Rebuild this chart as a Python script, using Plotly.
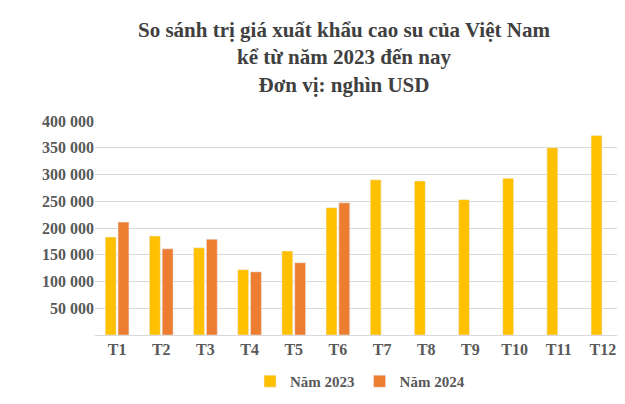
import plotly.graph_objects as go

months = ["T1", "T2", "T3", "T4", "T5", "T6", "T7", "T8", "T9", "T10", "T11", "T12"]
val_2023 = [183000, 185000, 163000, 122000, 157000, 238000, 290000, 288000, 253000, 293000, 350000, 373000]
val_2024 = [211000, 161000, 179000, 118000, 135000, 247000, None, None, None, None, None, None]
tick_vals = [0, 50000, 100000, 150000, 200000, 250000, 300000, 350000, 400000]
tick_text = ["", "50 000", "100 000", "150 000", "200 000", "250 000", "300 000", "350 000", "400 000"]

fig = go.Figure()
fig.add_trace(go.Bar(x=months, y=val_2023, name="Năm 2023", marker_color="#FFC000"))
fig.add_trace(go.Bar(x=months, y=val_2024, name="Năm 2024", marker_color="#ED7D31"))

font = "Liberation Serif"
fig.add_annotation(
    text="So sánh trị giá xuất khẩu cao su của Việt Nam<br>kể từ năm 2023 đến nay<br>Đơn vị: nghìn USD",
    xref="paper", yref="paper", x=0.47, y=1, xanchor="center", yanchor="bottom",
    yshift=22, showarrow=False,
    font=dict(family=font, size=21, color="#404040", weight="bold"),
)
fig.update_layout(
    width=625, height=404,
    paper_bgcolor="white", plot_bgcolor="white",
    margin=dict(l=87, r=8, t=113, b=77),
    barmode="group", bargap=0.42, bargroupgap=0.15,
    font=dict(family=font, color="#595959", size=16, weight="bold"),
    legend=dict(orientation="h", x=0.5, xanchor="center", y=-0.14, yanchor="top",
                font=dict(size=15)),
    yaxis=dict(range=[0, 400000], tickvals=tick_vals, ticktext=tick_text,
               gridcolor="#D9D9D9", zeroline=False, showline=False, ticklen=0),
    xaxis=dict(showline=True, linecolor="#D9D9D9", ticks=""),
)

fig.write_html("out.html")
